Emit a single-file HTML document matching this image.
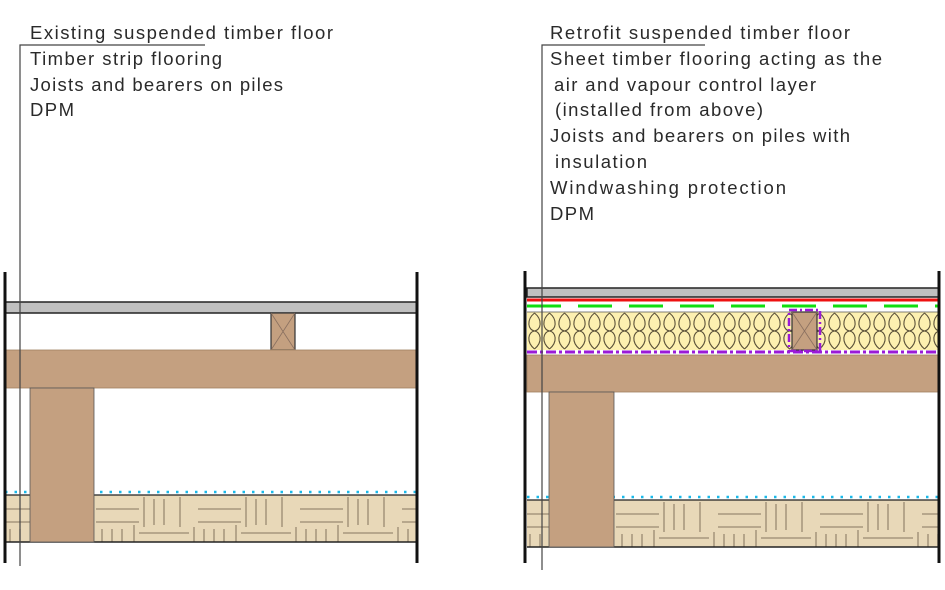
<!DOCTYPE html>
<html><head><meta charset="utf-8"><style>
html,body{margin:0;padding:0;background:#fff;}
svg{display:block;}
text{font-family:"Liberation Sans",sans-serif;font-size:18.5px;fill:#2a2a2a;}
</style></head><body>
<svg width="945" height="590" viewBox="0 0 945 590" xmlns="http://www.w3.org/2000/svg">
<defs>
<pattern id="parq" patternUnits="userSpaceOnUse" x="94" y="495" width="102" height="47">
<rect width="102" height="47" fill="#e8d8b8"/>
<g stroke="#9a8a72" stroke-width="1.3" fill="none">
<line x1="2" y1="14" x2="45" y2="14"/><line x1="2" y1="27" x2="45" y2="27"/>
<line x1="50" y1="2" x2="50" y2="32"/><line x1="60" y1="4" x2="60" y2="30"/><line x1="70" y1="4" x2="70" y2="30"/><line x1="86" y1="2" x2="86" y2="32"/>
<line x1="8" y1="34" x2="8" y2="47"/><line x1="18" y1="34" x2="18" y2="47"/><line x1="28" y1="34" x2="28" y2="47"/><line x1="40" y1="30" x2="40" y2="47"/>
<line x1="45" y1="38" x2="95" y2="38"/><line x1="100" y1="32" x2="100" y2="47"/>
</g></pattern>
<pattern id="parq2" href="#parq" x="614" y="500"/>
<pattern id="ins" patternUnits="userSpaceOnUse" x="527" y="312" width="15" height="38">
<rect width="15" height="38" fill="#fdf0b0"/>
<g stroke="#5a5038" stroke-width="1.1" fill="none">
<path d="M7.5 1 C16 8,14 18,7.5 19 C1 20,-1 30,7.5 37"/>
<path d="M7.5 1 C-1 8,1 18,7.5 19 C14 20,16 30,7.5 37"/>
</g></pattern>
</defs>

<!-- LEFT -->
<rect x="5" y="302" width="412" height="11" fill="#c0c0c0" stroke="#222" stroke-width="1.5"/>
<rect x="271" y="313" width="24" height="37" fill="#c4a080" stroke="#333" stroke-width="1.2"/>
<path d="M271 313 L295 350 M295 313 L271 350" stroke="#8a7060" stroke-width="0.8"/>
<rect x="5" y="350" width="412" height="38" fill="#c4a080" stroke="#a08060" stroke-width="0.8"/>
<rect x="5" y="495" width="412" height="47" fill="url(#parq)"/>
<line x1="5" y1="495" x2="417" y2="495" stroke="#222" stroke-width="1.2"/>
<line x1="5" y1="542" x2="417" y2="542" stroke="#222" stroke-width="1.5"/>
<line x1="5" y1="492" x2="417" y2="492" stroke="#19b8e8" stroke-width="2.5" stroke-dasharray="2.5 7"/>
<rect x="30" y="388" width="64" height="154" fill="#c4a080" stroke="#555" stroke-width="0.8"/>
<line x1="5" y1="272" x2="5" y2="563" stroke="#111" stroke-width="3"/>
<line x1="417" y1="272" x2="417" y2="563" stroke="#111" stroke-width="3"/>
<polyline points="205,45 20,45 20,566" fill="none" stroke="#444" stroke-width="1.2"/>

<!-- RIGHT -->
<rect x="527" y="288" width="412" height="9" fill="#c0c0c0" stroke="#222" stroke-width="1.5"/>
<line x1="527" y1="300" x2="939" y2="300" stroke="#ee1111" stroke-width="3"/>
<line x1="527" y1="306" x2="939" y2="306" stroke="#11dd11" stroke-width="3" stroke-dasharray="34 17"/>
<rect x="527" y="312" width="412" height="38" fill="url(#ins)"/>
<line x1="527" y1="312" x2="939" y2="312" stroke="#555" stroke-width="0.8"/>
<rect x="792" y="312" width="25" height="38" fill="#c4a080" stroke="#333" stroke-width="1.2"/>
<path d="M792 312 L817 350 M817 312 L792 350" stroke="#8a7060" stroke-width="0.8"/>
<rect x="789" y="310" width="31" height="41" fill="none" stroke="#9a1ad8" stroke-width="2.5" stroke-dasharray="8 3 2 3"/>
<line x1="527" y1="352" x2="939" y2="352" stroke="#9a1ad8" stroke-width="3" stroke-dasharray="10 3 3 3"/>
<rect x="527" y="355" width="412" height="37" fill="#c4a080" stroke="#a08060" stroke-width="0.8"/>
<rect x="527" y="500" width="412" height="47" fill="url(#parq2)"/>
<line x1="527" y1="500" x2="939" y2="500" stroke="#222" stroke-width="1.2"/>
<line x1="527" y1="547" x2="939" y2="547" stroke="#222" stroke-width="1.5"/>
<line x1="527" y1="497" x2="939" y2="497" stroke="#19b8e8" stroke-width="2.5" stroke-dasharray="2.5 7"/>
<rect x="549" y="392" width="65" height="155" fill="#c4a080" stroke="#555" stroke-width="0.8"/>
<line x1="525" y1="271" x2="525" y2="563" stroke="#111" stroke-width="3"/>
<line x1="939" y1="271" x2="939" y2="563" stroke="#111" stroke-width="3"/>
<polyline points="705,45 542,45 542,570" fill="none" stroke="#444" stroke-width="1.2"/>

<!-- TEXT -->
<text x="30" y="39" textLength="303" lengthAdjust="spacing">Existing suspended timber floor</text>
<text x="30" y="65" textLength="192" lengthAdjust="spacing">Timber strip flooring</text>
<text x="30" y="91" textLength="253" lengthAdjust="spacing">Joists and bearers on piles</text>
<text x="30" y="116" textLength="44" lengthAdjust="spacing">DPM</text>

<text x="550" y="39" textLength="300" lengthAdjust="spacing">Retrofit suspended timber floor</text>
<text x="550" y="65" textLength="332" lengthAdjust="spacing">Sheet timber flooring acting as the</text>
<text x="554" y="91" textLength="262" lengthAdjust="spacing">air and vapour control layer</text>
<text x="555" y="116" textLength="208" lengthAdjust="spacing">(installed from above)</text>
<text x="550" y="142" textLength="300" lengthAdjust="spacing">Joists and bearers on piles with</text>
<text x="555" y="168" textLength="92" lengthAdjust="spacing">insulation</text>
<text x="550" y="194" textLength="236" lengthAdjust="spacing">Windwashing protection</text>
<text x="550" y="220" textLength="44" lengthAdjust="spacing">DPM</text>
</svg>
</body></html>
